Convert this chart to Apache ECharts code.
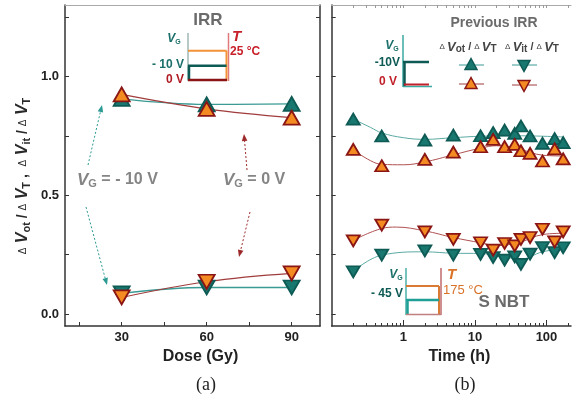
<!DOCTYPE html>
<html lang="en">
<head>
<meta charset="utf-8">
<title>IRR / S NBT</title>
<script src="https://cdn.jsdelivr.net/npm/echarts@6/dist/echarts.min.js"></script>
<style>html,body{margin:0;background:#fff}#main{width:579px;height:401px}</style>
</head>
<body>
<div id="main"></div>
<script>
// (a) dose dependence
var dose = [30, 60, 90];
var doseOtNeg10 = [0.905, 0.882, 0.884];
var doseOt0 = [0.924, 0.863, 0.826];
var doseItNeg10 = [0.087, 0.112, 0.112];
var doseIt0 = [0.07, 0.136, 0.171];

// (b) time dependence (hours)
var hours = [0.2, 0.5, 2, 5, 12, 18, 26, 36, 44, 59, 88, 130, 171];
var timeOtNeg10 = [0.82, 0.749, 0.732, 0.753, 0.75, 0.763, 0.774, 0.76, 0.791, 0.749, 0.718, 0.738, 0.721];
var timeOt0 = [0.693, 0.624, 0.651, 0.681, 0.704, 0.735, 0.704, 0.714, 0.687, 0.676, 0.644, 0.695, 0.653];
var timeIt0 = [0.308, 0.374, 0.346, 0.314, 0.30, 0.269, 0.297, 0.287, 0.314, 0.322, 0.357, 0.304, 0.346];
var timeItNeg10 = [0.178, 0.248, 0.266, 0.248, 0.251, 0.238, 0.227, 0.241, 0.209, 0.252, 0.28, 0.259, 0.279];

// fitted guide curves
var fitOtNeg10 = [[0.2, 0.82], [0.35, 0.785], [0.5, 0.762], [1, 0.742], [2, 0.735], [5, 0.742], [12, 0.748], [40, 0.75], [171, 0.745]];
var fitOt0 = [[0.2, 0.69], [0.35, 0.645], [0.5, 0.63], [1, 0.628], [2, 0.64], [5, 0.67], [12, 0.698], [20, 0.708], [40, 0.695], [90, 0.668], [171, 0.665]];
var fitIt0 = [[0.2, 0.31], [0.5, 0.36], [0.8, 0.366], [2, 0.35], [5, 0.322], [12, 0.3], [20, 0.288], [40, 0.3], [90, 0.335], [171, 0.34]];
var fitItNeg10 = [[0.2, 0.18], [0.5, 0.248], [2, 0.262], [5, 0.256], [12, 0.255], [26, 0.24], [44, 0.232], [88, 0.262], [171, 0.275]];

// ticks
var yTicks = [0, 0.25, 0.5, 0.75, 1, 1.25];
var yLabels = [0, 0.5, 1];
var doseTicks = [15, 30, 45, 60, 75, 90];
var doseLabels = [30, 60, 90];
var timeMajor = [1, 10, 100];
var timeMinor = [0.2, 0.3, 0.4, 0.5, 0.6, 0.7, 0.8, 0.9, 2, 3, 4, 5, 6, 7, 8, 9, 20, 30, 40, 50, 60, 70, 80, 90, 200];

var TEAL = '#18786f', TEAL_D = '#0e5a54', ORANGE = '#f38a22', RED_D = '#8a1515';
var TEAL_L = '#3a9a94', RED_L = '#a03c3c';
var SANS = 'Liberation Sans, Arial, sans-serif';

function lg(v) { return Math.log10(v); }
function pairs(xs, ys) { return xs.map(function (x, i) { return [x, ys[i]]; }); }
function logPairs(pts) { return pts.map(function (p) { return [lg(p[0]), p[1]]; }); }

function marker(name, xi, data, up, teal, size) {
    return {
        name: name, type: 'line', xAxisIndex: xi, yAxisIndex: xi === 0 ? 0 : 2,
        data: data, showSymbol: true, symbol: 'triangle', symbolSize: size,
        symbolRotate: up ? 0 : 180, lineStyle: { width: 0, opacity: 0 },
        itemStyle: { color: teal ? TEAL : ORANGE, borderColor: teal ? TEAL_D : RED_D, borderWidth: 1.8, opacity: 1 },
        z: teal ? 5 : 6, silent: true
    };
}
function guide(xi, data, color, width) {
    return {
        type: 'line', xAxisIndex: xi, yAxisIndex: xi === 0 ? 0 : 2, data: data, smooth: 0.4,
        showSymbol: false, symbol: 'none', lineStyle: { color: color, width: width }, z: 3, silent: true
    };
}

// graphic helpers for the inset sketches and annotations
function seg(x1, y1, x2, y2, c, w, dash) {
    return { type: 'line', shape: { x1: x1, y1: y1, x2: x2, y2: y2 }, style: { stroke: c, lineWidth: w || 1.5, lineDash: dash || null }, z: 50 };
}
function txt(x, y, text, align, rich, extra) {
    var st = { text: text, x: 0, y: 0, align: align || 'center', verticalAlign: 'middle', rich: rich || {} };
    for (var k in (extra || {})) st[k] = extra[k];
    return { type: 'text', x: x, y: y, style: st, z: 60 };
}
function arrow(x1, y1, x2, y2, c) {
    var a = Math.atan2(y2 - y1, x2 - x1), L = 7, W = 2.8;
    var bx = x2 - L * Math.cos(a), by = y2 - L * Math.sin(a);
    return [
        seg(x1, y1, bx, by, c, 1, [2, 2]),
        { type: 'polygon', shape: { points: [[x2, y2], [bx - W * Math.sin(a), by + W * Math.cos(a)], [bx + W * Math.sin(a), by - W * Math.cos(a)]] }, style: { fill: c }, z: 50 }
    ];
}
function tri(cx, cy, up, teal) {
    var w = 6, h = 5.5;
    var pts = up ? [[cx, cy - h], [cx - w, cy + h], [cx + w, cy + h]] : [[cx, cy + h], [cx - w, cy - h], [cx + w, cy - h]];
    return { type: 'polygon', shape: { points: pts }, style: { fill: teal ? TEAL : ORANGE, stroke: teal ? TEAL_D : RED_D, lineWidth: 1.5 }, z: 55 };
}

var vgRich = function (c, size, weight) {
    return {
        v: { fontFamily: SANS, fontStyle: 'italic', fontWeight: weight, fontSize: size, fill: c, lineHeight: size + 2 },
        s: { fontFamily: SANS, fontWeight: weight, fontSize: Math.round(size * 0.62), fill: c, verticalAlign: 'bottom', lineHeight: 6 },
        n: { fontFamily: SANS, fontWeight: weight, fontSize: size - 1, fill: c, lineHeight: size + 2 }
    };
};
var ratioRich = function (size, sub, c) {
    return {
        d: { fontFamily: SANS, fontSize: Math.round(size * 0.62), fill: c, lineHeight: size + 2 },
        v: { fontFamily: SANS, fontStyle: 'italic', fontWeight: 'bold', fontSize: size, fill: c, lineHeight: size + 2 },
        s: { fontFamily: SANS, fontWeight: 'bold', fontSize: sub, fill: c, verticalAlign: 'bottom', lineHeight: 7 },
        n: { fontFamily: SANS, fontWeight: 'bold', fontSize: size - 2, fill: c, lineHeight: size + 2 }
    };
};

var graphics = [];
// y axis title
graphics.push({
    type: 'text', x: 23, y: 176, rotation: Math.PI / 2,
    style: {
        text: '{d|Δ}{v| V}{s|ot}{n| / }{d|Δ}{v| V}{s|T}{n| ,  }{d|Δ}{v| V}{s|it}{n| / }{d|Δ}{v| V}{s|T}',
        x: 0, y: 0, align: 'center', verticalAlign: 'middle', rich: ratioRich(16, 11, '#2a2a2a')
    }, z: 60
});
// panel (a) inset
graphics.push(txt(208, 20, 'IRR', 'center', null, { fontFamily: SANS, fontWeight: 'bold', fontSize: 17, fill: '#6b6b6b' }));
graphics.push(seg(188, 33, 188, 81, '#9fb8b6', 1.5));
graphics.push(seg(228.5, 33, 228.5, 81, '#e07a7a', 1.5));
graphics.push(seg(188, 50.7, 226.5, 50.7, '#f39237', 2));
graphics.push(seg(226.5, 50.7, 226.5, 81, '#f39237', 2));
graphics.push(seg(188, 65.7, 226.5, 65.7, TEAL_D, 2.5));
graphics.push(seg(189, 65.7, 189, 80, TEAL_D, 2.5));
graphics.push(seg(188, 80, 227, 80, RED_D, 2.5));
graphics.push(txt(174, 39, '{v|V}{s|G}', 'center', vgRich('#1a6f6a', 12, 'bold')));
graphics.push(txt(184, 65, '- 10 V', 'right', null, { fontFamily: SANS, fontWeight: 'bold', fontSize: 12, fill: '#1a6f6a' }));
graphics.push(txt(184, 80, '0 V', 'right', null, { fontFamily: SANS, fontWeight: 'bold', fontSize: 12, fill: '#b01c24' }));
graphics.push(txt(232, 37, 'T', 'left', null, { fontFamily: SANS, fontStyle: 'italic', fontWeight: 'bold', fontSize: 15, fill: '#c8202a' }));
graphics.push(txt(230, 52, '25 °C', 'left', null, { fontFamily: SANS, fontWeight: 'bold', fontSize: 12, fill: '#c8202a' }));
// panel (a) annotations
graphics.push(txt(77, 180, '{v|V}{s|G}{n| = - 10 V}', 'left', vgRich('#858585', 17, 'bold')));
graphics.push(txt(223, 180, '{v|V}{s|G}{n| = 0 V}', 'left', vgRich('#858585', 17, 'bold')));
graphics = graphics.concat(arrow(88, 165, 102, 105, '#2a9a92'));
graphics = graphics.concat(arrow(86, 207, 107, 285, '#2a9a92'));
graphics = graphics.concat(arrow(247, 170, 244, 134, '#9c2a2a'));
graphics = graphics.concat(arrow(250, 212, 239, 257, '#9c2a2a'));
// panel (b) top inset and key
graphics.push(txt(494, 23, 'Previous IRR', 'center', null, { fontFamily: SANS, fontWeight: 'bold', fontSize: 14, fill: '#6b6b6b' }));
graphics.push(seg(403, 35, 403, 87, '#3aaaa2', 1.5));
graphics.push(seg(403, 86.5, 432, 86.5, '#3aaaa2', 1.5));
graphics.push(seg(403, 62, 429, 62, TEAL_D, 2.5));
graphics.push(seg(404.5, 62, 404.5, 86, TEAL_D, 2.5));
graphics.push(seg(404, 84.5, 429, 84.5, '#c0202a', 2));
graphics.push(txt(392, 46, '{v|V}{s|G}', 'center', vgRich('#1a6f6a', 12, 'bold')));
graphics.push(txt(400, 63, '-10V', 'right', null, { fontFamily: SANS, fontWeight: 'bold', fontSize: 12, fill: TEAL_D }));
graphics.push(txt(397, 82, '0 V', 'right', null, { fontFamily: SANS, fontWeight: 'bold', fontSize: 12, fill: '#c0202a' }));
graphics.push(txt(468, 47, '{d|Δ }{v|V}{s|ot}{n| / }{d|Δ }{v|V}{s|T}', 'center', ratioRich(13, 10, '#444')));
graphics.push(txt(532, 47, '{d|Δ }{v|V}{s|it}{n| / }{d|Δ }{v|V}{s|T}', 'center', ratioRich(13, 10, '#444')));
graphics.push(seg(459, 65, 484, 65, TEAL_L, 1));
graphics.push(seg(512, 65, 537, 65, TEAL_L, 1));
graphics.push(seg(459, 84, 484, 84, RED_L, 1));
graphics.push(seg(512, 85, 537, 85, RED_L, 1));
graphics.push(tri(471, 64, true, true));
graphics.push(tri(524, 66, false, true));
graphics.push(tri(471, 83, true, false));
graphics.push(tri(524, 86, false, false));
// panel (b) bottom inset
graphics.push(seg(406, 268, 406, 315, '#4ab0a8', 1.5));
graphics.push(seg(441, 268, 441, 315, '#c06a6a', 1.5));
graphics.push(seg(406, 286, 439, 286, '#d97a35', 2));
graphics.push(seg(439, 286, 439, 315, '#d97a35', 2));
graphics.push(seg(406, 300, 439, 300, '#1f9f96', 2.5));
graphics.push(seg(407.5, 300, 407.5, 315, '#1f9f96', 2.5));
graphics.push(seg(406, 314.5, 441, 314.5, '#c08080', 1.5));
graphics.push(txt(396, 275, '{v|V}{s|G}', 'center', vgRich('#1a6f6a', 12, 'bold')));
graphics.push(txt(403, 294, '- 45 V', 'right', null, { fontFamily: SANS, fontWeight: 'bold', fontSize: 12, fill: TEAL_D }));
graphics.push(txt(447, 275, 'T', 'left', null, { fontFamily: SANS, fontStyle: 'italic', fontWeight: 'bold', fontSize: 15, fill: '#d9732a' }));
graphics.push(txt(443, 290, '175 °C', 'left', null, { fontFamily: SANS, fontSize: 13, fill: '#d9732a' }));
graphics.push(txt(504, 302, 'S NBT', 'center', null, { fontFamily: SANS, fontWeight: 'bold', fontSize: 17, fill: '#6b6b6b' }));
// sub-figure captions
graphics.push(txt(206, 385, '(a)', 'center', null, { fontFamily: 'Liberation Serif, serif', fontSize: 18, fill: '#222' }));
graphics.push(txt(465, 385, '(b)', 'center', null, { fontFamily: 'Liberation Serif, serif', fontSize: 18, fill: '#222' }));

var axisDark = { show: true, onZero: false, lineStyle: { color: '#333', width: 1.5 } };
var axisGray = { show: true, onZero: false, lineStyle: { color: '#aaa', width: 1.2 } };
var tickLab = { fontFamily: SANS, fontWeight: 'bold', fontSize: 13, color: '#222' };
var timeMin = lg(0.1), timeMax = lg(220);

var option = {
    animation: false,
    grid: [
        { left: 65, top: 5, width: 255, height: 321 },
        { left: 331.7, top: 5, width: 239.3, height: 321 }
    ],
    xAxis: [
        {
            gridIndex: 0, type: 'value', min: 10, max: 100, position: 'bottom', axisLine: axisDark,
            axisTick: { inside: true, length: 4, customValues: doseTicks, lineStyle: { color: '#333' } },
            axisLabel: Object.assign({ customValues: doseLabels, margin: 5 }, tickLab), splitLine: { show: false },
            name: 'Dose (Gy)', nameLocation: 'middle', nameGap: 21,
            nameTextStyle: { fontFamily: SANS, fontWeight: 'bold', fontSize: 16, color: '#222', padding: [0, 0, 0, 16] }
        },
        {
            gridIndex: 0, type: 'value', min: 10, max: 100, position: 'top', axisLine: axisGray,
            axisTick: { show: false }, axisLabel: { show: false }, splitLine: { show: false }
        },
        {
            gridIndex: 1, type: 'value', min: timeMin, max: timeMax, position: 'bottom', axisLine: axisDark,
            axisTick: { inside: true, length: 6, customValues: timeMajor.map(lg), lineStyle: { color: '#333' } },
            axisLabel: Object.assign({
                customValues: timeMajor.map(lg), margin: 5,
                formatter: function (v) { return String(Math.round(Math.pow(10, v))); }
            }, tickLab), splitLine: { show: false },
            name: 'Time (h)', nameLocation: 'middle', nameGap: 19,
            nameTextStyle: { fontFamily: SANS, fontWeight: 'bold', fontSize: 16, color: '#222', padding: [0, 0, 0, 16] }
        },
        {
            gridIndex: 1, type: 'value', min: timeMin, max: timeMax, position: 'bottom', axisLine: { show: false, onZero: false },
            axisTick: { inside: true, length: 3, customValues: timeMinor.map(lg), lineStyle: { color: '#333' } },
            axisLabel: { show: false }, splitLine: { show: false }
        },
        {
            gridIndex: 1, type: 'value', min: timeMin, max: timeMax, position: 'top', axisLine: axisGray,
            axisTick: { inside: true, length: 3, customValues: timeMajor.concat(timeMinor).map(lg), lineStyle: { color: '#999' } },
            axisLabel: { show: false }, splitLine: { show: false }
        }
    ],
    yAxis: [
        {
            gridIndex: 0, type: 'value', min: -0.05, max: 1.3, position: 'left', axisLine: axisDark,
            axisTick: { inside: true, length: 4, customValues: yTicks, lineStyle: { color: '#333' } },
            axisLabel: Object.assign({ customValues: yLabels, margin: 6, formatter: function (v) { return v.toFixed(1); } }, tickLab),
            splitLine: { show: false }
        },
        {
            gridIndex: 0, type: 'value', min: -0.05, max: 1.3, position: 'right', axisLine: axisDark,
            axisTick: { inside: true, length: 4, customValues: yTicks, lineStyle: { color: '#333' } },
            axisLabel: { show: false }, splitLine: { show: false }
        },
        {
            gridIndex: 1, type: 'value', min: -0.05, max: 1.3, position: 'left', axisLine: axisDark,
            axisTick: { inside: true, length: 4, customValues: yTicks, lineStyle: { color: '#333' } },
            axisLabel: { show: false }, splitLine: { show: false }
        }
    ],
    series: [
        guide(0, pairs(dose, doseOtNeg10), TEAL_L, 1.3),
        guide(0, pairs(dose, doseOt0), RED_L, 1.2),
        guide(0, pairs(dose, doseItNeg10), TEAL_L, 1.3),
        guide(0, pairs(dose, doseIt0), RED_L, 1.2),
        marker('ot -10V', 0, pairs(dose, doseOtNeg10), true, true, [16, 14]),
        marker('ot 0V', 0, pairs(dose, doseOt0), true, false, [16, 14]),
        marker('it -10V', 0, pairs(dose, doseItNeg10), false, true, [16, 14]),
        marker('it 0V', 0, pairs(dose, doseIt0), false, false, [16, 14]),

        guide(2, logPairs(fitOtNeg10), '#5aa9a3', 1),
        guide(2, logPairs(fitOt0), '#b05050', 1),
        guide(2, logPairs(fitIt0), '#b05050', 1),
        guide(2, logPairs(fitItNeg10), '#5aa9a3', 1),
        marker('t ot -10V', 2, logPairs(pairs(hours, timeOtNeg10)), true, true, [13, 11]),
        marker('t ot 0V', 2, logPairs(pairs(hours, timeOt0)), true, false, [13, 11]),
        marker('t it 0V', 2, logPairs(pairs(hours, timeIt0)), false, false, [13, 11]),
        marker('t it -10V', 2, logPairs(pairs(hours, timeItNeg10)), false, true, [13, 11])
    ],
    graphic: graphics
};

var myChart = echarts.init(document.getElementById('main'));
myChart.setOption(option);
</script>
</body>
</html>
